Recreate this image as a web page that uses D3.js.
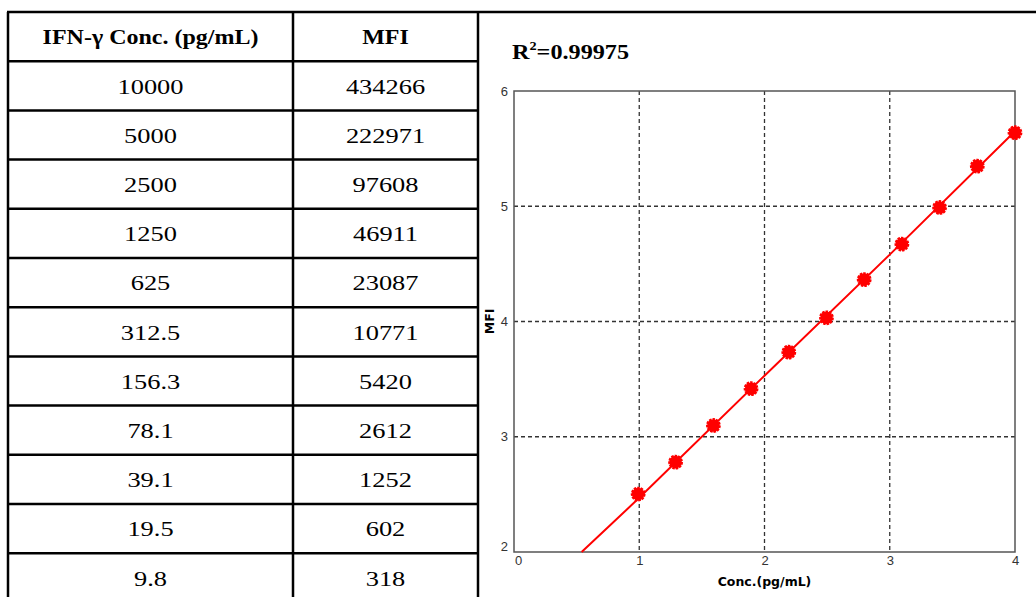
<!DOCTYPE html>
<html>
<head>
<meta charset="utf-8">
<script src="https://cdn.jsdelivr.net/npm/d3@7"></script>
<style>
  body { margin: 0; background: #fff; }
  svg { display: block; }
  .tick text { font-family: "Liberation Sans", sans-serif; font-size: 13px; fill: #333; }
</style>
</head>
<body>
<script>
let w = 1036;
let h = 597;

// table values
var concValues = [10000, 5000, 2500, 1250, 625, 312.5, 156.3, 78.1, 39.1, 19.5, 9.8];
var mfiValues = [434266, 222971, 97608, 46911, 23087, 10771, 5420, 2612, 1252, 602, 318];
var headers = ["IFN-\u03b3 Conc. (pg/mL)", "MFI"];

// fitted curve (log10 units)
var fitX = [0.54, 1, 2, 3, 4];
var fitY = [2, 2.47, 3.53, 4.58, 5.65];

var xTicks = [0, 1, 2, 3, 4];
var yTicks = [2, 3, 4, 5, 6];
var rSquared = "0.99975";

let svg = d3.select("body").append("svg").attr("width", w).attr("height", h);

// ---- table ----
let tableLeft = 8, colSplit = 293, tableRight = 478;
let tableTop = 12, rowH = 49.2;
let stretch = 1.2; // the table text in the picture is a bit wide

let colCenters = [(tableLeft + colSplit) / 2, (colSplit + tableRight) / 2];

let rowScale = d3.scaleLinear().domain([0, 1]).range([tableTop, tableTop + rowH]);

function cellText(x, y, t, bold, size) {
    svg.append("text")
        .attr("transform", "translate(" + x + "," + y + ") scale(" + stretch + ",1)")
        .attr("dy", "0.35em")
        .style("font-family", "'Liberation Serif', serif")
        .style("font-size", size + "px")
        .style("font-weight", bold ? "bold" : "normal")
        .style("text-anchor", "middle")
        .text(t);
}

headers.forEach(function(t, i) {
    cellText(colCenters[i], rowScale(0.5), t, true, 20);
});

concValues.forEach(function(c, i) {
    cellText(colCenters[0], rowScale(i + 1.5), String(c), false, 22);
    cellText(colCenters[1], rowScale(i + 1.5), String(mfiValues[i]), false, 22);
});

// horizontal rules
for (let i = 1; i <= concValues.length + 1; i++) {
    svg.append("line")
        .attr("x1", tableLeft).attr("x2", tableRight)
        .attr("y1", rowScale(i)).attr("y2", rowScale(i))
        .attr("stroke", "#000").attr("stroke-width", 2.5);
}
// top border runs across the whole figure
svg.append("line")
    .attr("x1", tableLeft - 1).attr("x2", w)
    .attr("y1", tableTop).attr("y2", tableTop)
    .attr("stroke", "#000").attr("stroke-width", 2.5);
// vertical rules
[tableLeft, colSplit, tableRight].forEach(function(x) {
    svg.append("line")
        .attr("x1", x).attr("x2", x)
        .attr("y1", tableTop).attr("y2", h)
        .attr("stroke", "#000").attr("stroke-width", 2.5);
});

// ---- chart ----
let plotL = 514, plotR = 1015, plotT = 91, plotB = 552;

let xScale = d3.scaleLinear().domain([0, 4]).range([plotL, plotR]);
let yScale = d3.scaleLinear().domain([2, 6]).range([plotB, plotT]);

svg.append("text")
    .attr("transform", "translate(512,59) scale(1.1,1)")
    .style("font-family", "'Liberation Serif', serif")
    .style("font-size", "22px")
    .style("font-weight", "bold")
    .html("R<tspan dy='-9' font-size='13px'>2</tspan><tspan dy='9'>=" + rSquared + "</tspan>");

// grid
svg.append("g")
    .selectAll("line")
    .data(xTicks.slice(1, -1))
    .enter()
    .append("line")
    .attr("x1", function(d) { return xScale(d); })
    .attr("x2", function(d) { return xScale(d); })
    .attr("y1", plotT).attr("y2", plotB)
    .attr("stroke", "#333").attr("stroke-width", 1.3)
    .attr("stroke-dasharray", "4,3");

svg.append("g")
    .selectAll("line")
    .data(yTicks.slice(1, -1))
    .enter()
    .append("line")
    .attr("y1", function(d) { return yScale(d); })
    .attr("y2", function(d) { return yScale(d); })
    .attr("x1", plotL).attr("x2", plotR)
    .attr("stroke", "#333").attr("stroke-width", 1.3)
    .attr("stroke-dasharray", "4,3");

// frame
svg.append("rect")
    .attr("x", plotL).attr("y", plotT)
    .attr("width", plotR - plotL).attr("height", plotB - plotT)
    .attr("fill", "none")
    .attr("stroke", "#555").attr("stroke-width", 1.5);

// axes (labels only)
let xAxis = d3.axisBottom(xScale).tickValues(xTicks).tickFormat(d3.format("d")).tickSize(0).tickPadding(4);
let gx = svg.append("g")
    .attr("transform", "translate(0," + plotB + ")")
    .call(xAxis);
gx.select(".domain").remove();
gx.selectAll(".tick text").attr("dx", function(d) { return d === 0 ? 4 : 0; });

let yAxis = d3.axisLeft(yScale).tickValues(yTicks).tickFormat(d3.format("d")).tickSize(0).tickPadding(6);
let gy = svg.append("g")
    .attr("transform", "translate(" + plotL + ",0)")
    .call(yAxis);
gy.select(".domain").remove();
gy.selectAll(".tick text").attr("dy", function(d) { return d === 2 ? "-0.1em" : "0.32em"; });

// axis titles
svg.append("text")
    .attr("x", (plotL + plotR) / 2)
    .attr("y", 586)
    .style("font-family", "'DejaVu Sans', sans-serif")
    .style("font-size", "12.5px")
    .style("font-weight", "bold")
    .style("text-anchor", "middle")
    .text("Conc.(pg/mL)");

svg.append("text")
    .attr("transform", "translate(494," + yScale(4) + ") rotate(-90)")
    .style("font-family", "'DejaVu Sans', sans-serif")
    .style("font-size", "12.5px")
    .style("font-weight", "bold")
    .style("text-anchor", "middle")
    .text("MFI");

// fit line
let line = d3.line()
    .x(function(d) { return xScale(d[0]); })
    .y(function(d) { return yScale(d[1]); });

svg.append("path")
    .datum(fitX.map(function(x, i) { return [x, fitY[i]]; }))
    .attr("d", line)
    .attr("fill", "none")
    .attr("stroke", "#ff0000")
    .attr("stroke-width", 2);

// points
svg.append("g")
    .selectAll("circle")
    .data(concValues.map(function(c, i) { return { c: c, m: mfiValues[i] }; }))
    .enter()
    .append("circle")
    .attr("cx", function(d) { return xScale(Math.log10(d.c)); })
    .attr("cy", function(d) { return yScale(Math.log10(d.m)); })
    .attr("r", 6.3)
    .attr("fill", "#ff0000")
    .attr("stroke", "#ff0000")
    .attr("stroke-width", 2.2)
    .attr("stroke-dasharray", "2.5,1");
</script>
</body>
</html>
